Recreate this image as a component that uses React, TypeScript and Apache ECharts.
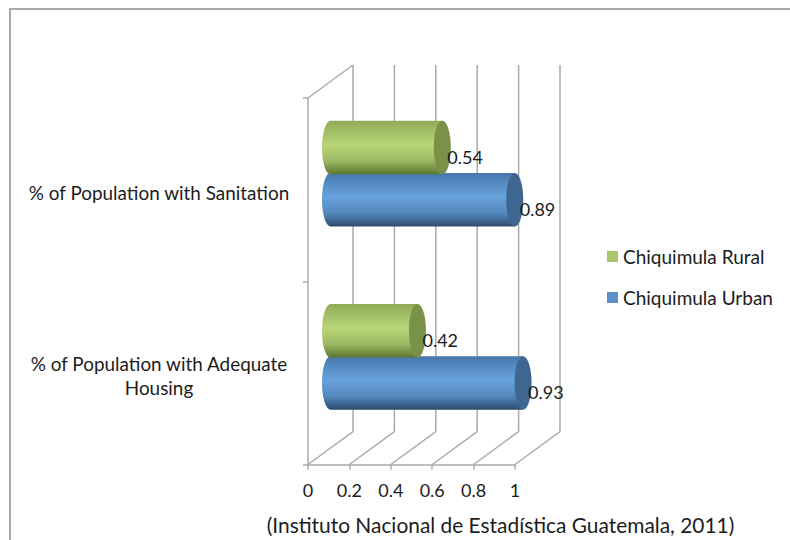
import React, { useEffect, useRef } from "react";
import * as echarts from "echarts";

const categories = ["% of Population with Sanitation", "% of Population with Adequate\nHousing"];
const ruralValues = [0.54, 0.42];
const urbanValues = [0.89, 0.93];
const tickValues = [0, 0.2, 0.4, 0.6, 0.8, 1];
const sourceNote = "(Instituto Nacional de Estadística Guatemala, 2011)";

const FONT = "Lato";
const TEXT = "#1c1c1c";
const GRID = "#ababab";
const DEPTH_X = 45;
const DEPTH_Y = -33;

function cylinderRenderer(offsetShare: number, colors: string[], capColor: string) {
  return (_p: any, api: any) => {
    const value = api.value(0);
    const cat = api.value(1);
    const band = api.size([0, 1])[1];
    const start = api.coord([0, cat]);
    const end = api.coord([value, cat]);
    const cy = start[1] + DEPTH_Y / 2 + 0.5 + offsetShare * band;
    const x0 = start[0] + DEPTH_X / 2;
    const x1 = end[0] + DEPTH_X / 2;
    const ry = 0.146 * band;
    const rx = 8.5;
    const pts: number[][] = [];
    for (let a = 90; a <= 270; a += 6) {
      const r = (a * Math.PI) / 180;
      pts.push([x0 + rx * Math.cos(r), cy - ry * Math.sin(r)]);
    }
    pts.push([x1, cy + ry], [x1, cy - ry]);
    return {
      type: "group",
      children: [
        {
          type: "polygon",
          shape: { points: pts },
          style: {
            fill: new echarts.graphic.LinearGradient(0, 0, 0, 1, [
              { offset: 0, color: colors[0] },
              { offset: 0.45, color: colors[1] },
              { offset: 0.75, color: colors[2] },
              { offset: 1, color: colors[3] },
            ]),
          },
        },
        {
          type: "ellipse",
          shape: { cx: x1, cy, rx, ry },
          style: { fill: capColor },
        },
        {
          type: "text",
          x: x1 + 5,
          y: cy + 9,
          style: {
            text: String(value),
            fontFamily: FONT,
            fontSize: 18,
            fill: TEXT,
            align: "left",
            verticalAlign: "middle",
          },
        },
      ],
    };
  };
}

function wallRenderer(_p: any, api: any) {
  const v = api.value(0);
  const band = api.size([0, 1])[1];
  const top = api.coord([v, 0]);
  const bottom = api.coord([v, 1]);
  const yTop = top[1] - band / 2;
  const yBottom = bottom[1] + band / 2;
  const x = top[0];
  const children: any[] = [
    {
      type: "polyline",
      shape: {
        points: [
          [x, yBottom],
          [x + DEPTH_X, yBottom + DEPTH_Y],
          [x + DEPTH_X, yTop + DEPTH_Y],
        ],
      },
      style: { stroke: GRID, lineWidth: 1.5, fill: "none" },
    },
  ];
  if (v === 0) {
    children.push({
      type: "line",
      shape: { x1: x, y1: yTop, x2: x + DEPTH_X, y2: yTop + DEPTH_Y },
      style: { stroke: GRID, lineWidth: 1.5 },
    });
  }
  return { type: "group", children };
}

export default function App() {
  const ref = useRef<HTMLDivElement>(null);
  useEffect(() => {
    document.body.style.margin = "0";
    const chart = echarts.init(ref.current!, null, { renderer: "svg" });
    chart.setOption({
      animation: false,
      backgroundColor: "#ffffff",
      grid: [
        { left: 308, top: 98, width: 207, height: 366.5 },
        { left: 308, top: 100.5, width: 207, height: 366.5 },
      ],
      xAxis: [
        {
          type: "value",
          min: 0,
          max: 1,
          interval: 0.2,
          splitLine: { show: false },
          axisLine: { show: true, lineStyle: { color: GRID, width: 1.5 } },
          axisTick: { show: true, length: 5, lineStyle: { color: GRID, width: 1.5 } },
          axisLabel: { color: TEXT, fontFamily: FONT, fontSize: 18, margin: 16, hideOverlap: false },
        },
        { type: "value", gridIndex: 1, min: 0, max: 1, show: false },
      ],
      yAxis: [
        {
          type: "category",
          inverse: true,
          data: categories,
          axisLine: { show: true, lineStyle: { color: GRID, width: 1.5 } },
          axisTick: { show: true, length: 5, alignWithLabel: false, lineStyle: { color: GRID, width: 1.5 } },
          axisLabel: { show: false },
        },
        {
          type: "category",
          gridIndex: 1,
          inverse: true,
          data: categories,
          axisLine: { show: false },
          axisTick: { show: false },
          axisLabel: {
            color: TEXT,
            fontFamily: FONT,
            fontSize: 18.9,
            align: "center",
            margin: 149,
            lineHeight: 24,
            interval: 0,
          },
        },
      ],
      legend: {
        orient: "vertical",
        left: 607,
        top: 247,
        padding: 0,
        itemWidth: 11,
        itemHeight: 11,
        itemGap: 22,
        icon: "rect",
        data: ["Chiquimula Rural", "Chiquimula Urban"],
        textStyle: { color: TEXT, fontFamily: FONT, fontSize: 19 },
      },
      series: [
        {
          name: "walls",
          type: "custom",
          silent: true,
          z: 1,
          renderItem: wallRenderer,
          data: tickValues.map((v) => [v]),
          encode: { x: 0 },
        },
        {
          name: "Chiquimula Urban",
          type: "custom",
          z: 3,
          itemStyle: { color: "#5b90c8" },
          renderItem: cylinderRenderer(0.142, ["#4677ac", "#68a3dd", "#5488bd", "#2c4b70"], "#3f6690"),
          data: urbanValues.map((v, i) => [v, i]),
          encode: { x: 0, y: 1 },
        },
        {
          name: "Chiquimula Rural",
          type: "custom",
          z: 4,
          itemStyle: { color: "#a9c46c" },
          renderItem: cylinderRenderer(-0.142, ["#90ab55", "#b8d678", "#9cb862", "#5c7530"], "#7a9149"),
          data: ruralValues.map((v, i) => [v, i]),
          encode: { x: 0, y: 1 },
        },
      ],
      graphic: [
        {
          type: "polyline",
          silent: true,
          shape: { points: [[10, 540], [10, 9], [790, 9]] },
          style: { stroke: "#aaaaaa", lineWidth: 2, fill: "none" },
        },
        {
          type: "text",
          x: 500.5,
          y: 524.5,
          style: {
            text: sourceNote,
            fontFamily: FONT,
            fontSize: 20.9,
            fill: TEXT,
            align: "center",
            verticalAlign: "middle",
          },
        },
      ],
    });
    return () => chart.dispose();
  }, []);
  return <div ref={ref} style={{ position: "absolute", left: 0, top: 0, width: 790, height: 540 }} />;
}
